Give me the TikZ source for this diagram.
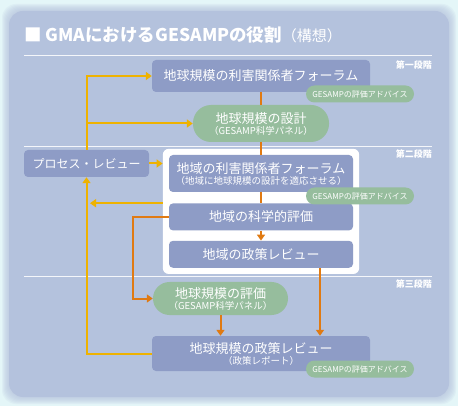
\documentclass[tikz,border=0pt]{standalone}
\usepackage{fontspec}
\setmainfont{Noto Sans CJK JP}
\usepackage{tikz}
\usetikzlibrary{arrows.meta,positioning,fit,backgrounds}
\definecolor{gmacyan}{HTML}{E4F6F8}
\definecolor{gmapanel}{HTML}{B4C2DD}
\definecolor{gmablue}{HTML}{8E9CC6}
\definecolor{gmagreen}{HTML}{96BD9D}
\definecolor{gmayellow}{HTML}{EEB200}
\definecolor{gmaorange}{HTML}{E07A12}
\newcommand{\bigfs}{\fontsize{13}{15}\selectfont}
\newcommand{\smallfs}{\fontsize{9.5}{10}\selectfont}
\tikzset{
  box/.style={rounded corners=4pt,fill=gmablue,text=white,align=center,inner sep=0pt,font=\bigfs,minimum width=184pt,minimum height=27pt},
  wide/.style={box,minimum width=218pt},
  sci/.style={box,fill=gmagreen,minimum width=136pt,minimum height=37pt,rounded corners=18pt},
  advice/.style={box,fill=gmagreen,minimum width=108pt,minimum height=17pt,rounded corners=8.5pt,font=\fontsize{8}{9}\selectfont},
  phase/.style={anchor=east,text=white,font=\fontsize{9}{10}\selectfont\bfseries,inner sep=0pt},
  sep/.style={draw=white!85!gmapanel,line width=0.8pt},
  yar/.style={-{Triangle[length=6pt,width=8pt]},draw=gmayellow,line width=2pt},
  oar/.style={-{Triangle[length=6pt,width=8pt]},draw=gmaorange,line width=2pt},
  oln/.style={draw=gmaorange,line width=2pt},
}
\begin{document}
\begin{tikzpicture}[x=1pt,y=-1pt]
  \useasboundingbox (0,0) rectangle (458,406);
  \node[anchor=west,text=white,inner sep=0pt,font=\fontsize{17.5}{19}\selectfont\bfseries] (title) at (24,35)
    {■ GMAにおけるGESAMPの役割{\mdseries\fontsize{15}{17}\selectfont（構想）}};
  \node[phase] (ph1) at (432,65) {第一段階};
  \node[phase] (ph2) at (432,154) {第二段階};
  \node[phase] (ph3) at (432,284) {第三段階};

  \node[wide,minimum height=32pt] (gforum) at (261,76) {地球規模の利害関係者フォーラム};
  \node[advice] (adv1) at (360,94) {GESAMPの評価アドバイス};
  \node[sci] (gdesign) at (261,123.5) {地球規模の設計\\[-4pt]{\smallfs（GESAMP科学パネル）}};
  \node[box,minimum width=125pt,font=\fontsize{12}{14}\selectfont] (review) at (86.5,163.5) {プロセス・レビュー};
  \node[box,minimum height=37pt] (rforum) at (261,173.5) {地域の利害関係者フォーラム\\[-4pt]{\smallfs（地域に地球規模の設計を適応させる）}};
  \node[box,below=11pt of rforum] (rassess) {地域の科学的評価};
  \node[box,below=10pt of rassess] (rpolicy) {地域の政策レビュー};
  \node[advice] (adv2) at (360,196) {GESAMPの評価アドバイス};
  \node[sci,minimum width=135pt,minimum height=33pt,rounded corners=16.5pt] (gassess) at (220.5,298.5) {地球規模の評価\\[-4pt]{\smallfs（GESAMP科学パネル）}};
  \node[wide,minimum height=35pt] (gpolicy) at (261,353.5) {地球規模の政策レビュー\\[-4pt]{\smallfs（政策レポート）}};
  \node[advice] (adv3) at (360,369) {GESAMPの評価アドバイス};

  \begin{scope}[on background layer]
    \fill[gmacyan] (0,0) rectangle (458,406);
    % soft edge of the panel
    \foreach \g in {1,...,7}
      \fill[gmapanel,opacity=0.14,rounded corners=14pt] (9-\g,11-\g) rectangle (449+\g,397+\g);
    \fill[gmapanel,rounded corners=14pt] (9,11) rectangle (449,397);
    \draw[sep] (24,55) -- (432,55);
    \draw[sep] (24,146) -- (432,146);
    \draw[sep] (24,276) -- (432,276);
    \node[fit=(rforum)(rassess)(rpolicy),inner sep=6pt,fill=white,rounded corners=6pt] (frame) {};
  \end{scope}

  % process review loop
  \draw[yar] (review.north) |- (gforum.west);
  \draw[yar] (review.north |- gdesign.west) -- (gdesign.west);
  \draw[yar] (review.east) -- (review.east -| frame.west);
  \draw[yar] (frame.west |- rassess.north) -- ([xshift=3.5pt]review.south |- rassess.north);
  \draw[yar] (gpolicy.west) -| (review.south);

  % main flow
  \draw[oln] (gforum) -- (gdesign);
  \draw[oln] (gdesign) -- (rforum);
  \draw[oln] (rforum) -- (rassess);
  \draw[oar] (rassess) -- (rpolicy);
  \draw[oar] (rassess.west) -- ++(-36,0) |- (gassess.west);
  \draw[oar] (gassess.south) -- (gassess.south |- gpolicy.north);
  \draw[oar] ([xshift=59pt]rpolicy.south) -- ([xshift=59pt]rpolicy.south |- gpolicy.north);
\end{tikzpicture}
\end{document}
